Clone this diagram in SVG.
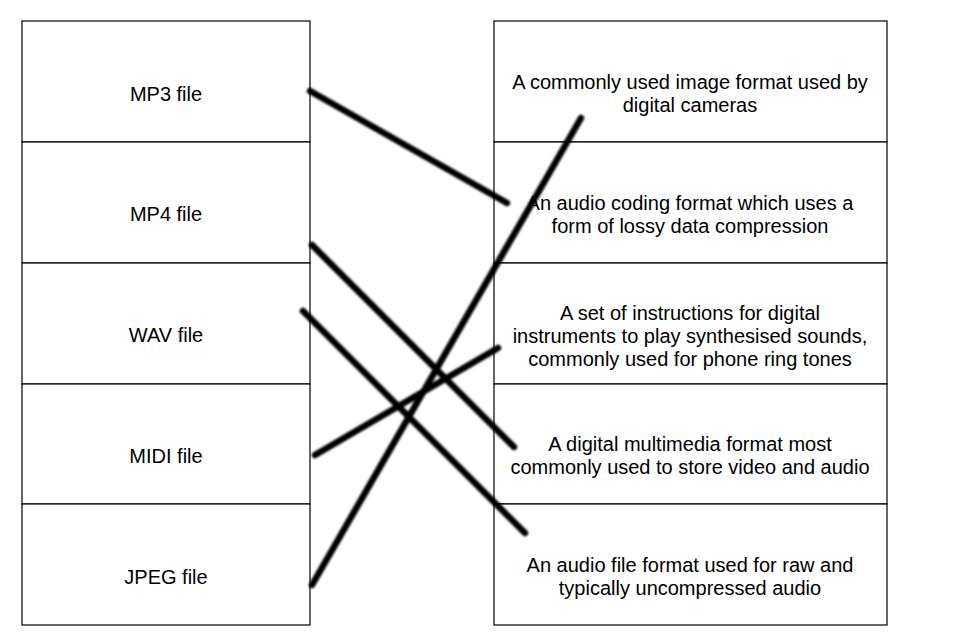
<svg xmlns="http://www.w3.org/2000/svg" width="957" height="640" viewBox="0 0 957 640">
<style>
.box{fill:#fff;stroke:#000;stroke-width:1.2}
.t{font-family:"Liberation Sans",Arial,sans-serif;font-size:20px;fill:#000;text-anchor:middle}
.c{stroke:#000;stroke-width:6.5;stroke-linecap:round;fill:none}
</style>
<defs><filter id="b" x="-10%" y="-10%" width="120%" height="120%"><feGaussianBlur stdDeviation="0.9"/></filter></defs>
<rect width="957" height="640" fill="#fff"/>
<g id="left1"><rect class="box" x="22" y="21" width="288" height="121"/><text class="t" x="166" y="101">MP3 file</text></g>
<g id="left2"><rect class="box" x="22" y="142" width="288" height="121"/><text class="t" x="166" y="221">MP4 file</text></g>
<g id="left3"><rect class="box" x="22" y="263" width="288" height="121"/><text class="t" x="166" y="342">WAV file</text></g>
<g id="left4"><rect class="box" x="22" y="384" width="288" height="120"/><text class="t" x="166" y="463">MIDI file</text></g>
<g id="left5"><rect class="box" x="22" y="504" width="288" height="121"/><text class="t" x="166" y="584">JPEG file</text></g>
<g id="right1"><rect class="box" x="494" y="21" width="393" height="121"/><text class="t" x="690" y="89">A commonly used image format used by</text><text class="t" x="690" y="112">digital cameras</text></g>
<g id="right2"><rect class="box" x="494" y="142" width="393" height="121"/><text class="t" x="690" y="210">An audio coding format which uses a</text><text class="t" x="690" y="233">form of lossy data compression</text></g>
<g id="right3"><rect class="box" x="494" y="263" width="393" height="121"/><text class="t" x="690" y="320">A set of instructions for digital</text><text class="t" x="690" y="343">instruments to play synthesised sounds,</text><text class="t" x="690" y="366">commonly used for phone ring tones</text></g>
<g id="right4"><rect class="box" x="494" y="384" width="393" height="120"/><text class="t" x="690" y="451">A digital multimedia format most</text><text class="t" x="690" y="474">commonly used to store video and audio</text></g>
<g id="right5"><rect class="box" x="494" y="504" width="393" height="121"/><text class="t" x="690" y="572">An audio file format used for raw and</text><text class="t" x="690" y="595">typically uncompressed audio</text></g>
<g id="connectors" filter="url(#b)">
<line class="c" x1="310" y1="91" x2="507" y2="203"/>
<line class="c" x1="312" y1="245" x2="514" y2="447"/>
<line class="c" x1="303" y1="311" x2="525" y2="533"/>
<line class="c" x1="315" y1="455" x2="498" y2="348"/>
<line class="c" x1="312" y1="585" x2="581" y2="118"/>
</g>
</svg>
